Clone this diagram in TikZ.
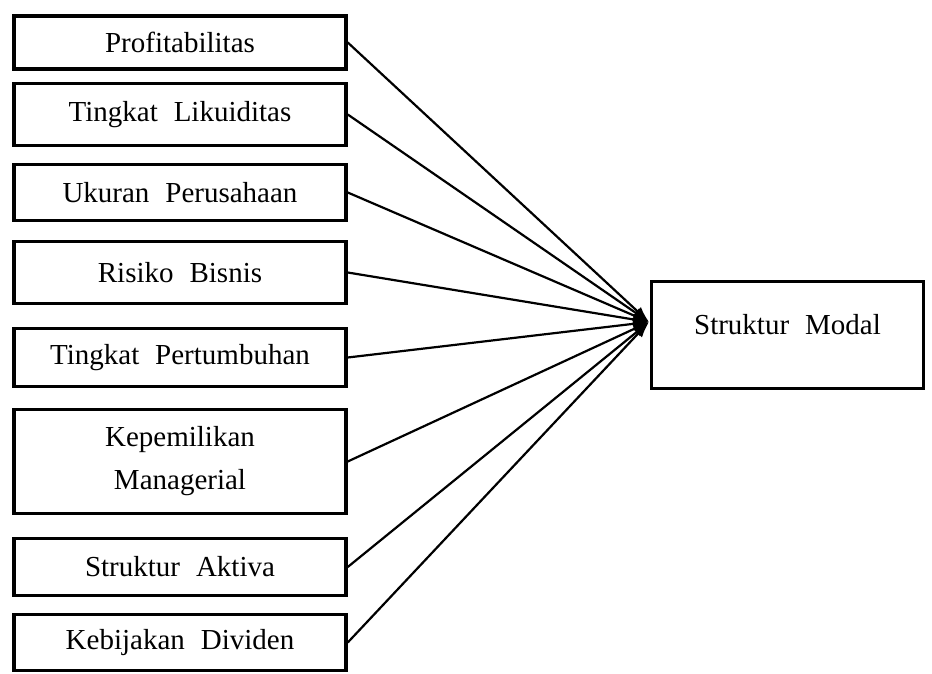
\documentclass[tikz,border=0pt]{standalone}
\usepackage{fontspec}
\setmainfont{Liberation Serif}
\usetikzlibrary{arrows.meta, positioning}

\begin{document}
\begin{tikzpicture}[
  x=1pt, y=-1pt,
  varbox/.style={draw, line width=3.5pt, minimum width=332pt, align=center,
    font={\fontsize{29}{43}\selectfont\spaceskip=0.55em\relax}},
  link/.style={line width=2.2pt, -{Latex[length=16pt,width=11pt]}}
]
  \useasboundingbox (0,0) rectangle (932,674);

  % Independent variables
  \node[varbox, minimum height=53pt] (profit) at (180,42.5) {Profitabilitas};
  \node[varbox, minimum height=62pt] (likuid) at (180,114.5) {Tingkat Likuiditas};
  \node[varbox, minimum height=56pt] (ukuran) at (180,192.5) {Ukuran Perusahaan};
  \node[varbox, minimum height=62pt] (risiko) at (180,272.5) {Risiko Bisnis};
  \node[varbox, minimum height=58pt] (tumbuh) at (180,357.5) {Tingkat Pertumbuhan};
  \node[varbox, minimum height=104pt] (milik) at (180,461.5) {Kepemilikan\\Managerial};
  \node[varbox, minimum height=57pt] (aktiva) at (180,567) {Struktur Aktiva};
  \node[varbox, minimum height=56pt] (divid) at (180,642.5) {Kebijakan Dividen};

  % Dependent variable
  \node[varbox, line width=3pt, minimum width=272pt, minimum height=107pt, text depth=22pt] (modal) at (787.5,335) {Struktur Modal};
  \coordinate (tip) at (649,322);

  % Arrows
  \foreach \src in {profit, likuid, ukuran, risiko, tumbuh, milik, aktiva, divid}
    \draw[link] (\src.east) -- (tip);

\end{tikzpicture}
\end{document}
